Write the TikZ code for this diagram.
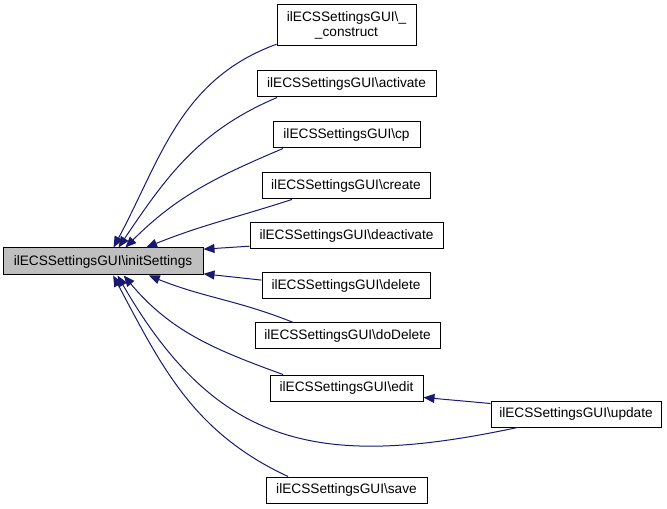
\documentclass[tikz,border=0pt]{standalone}
\usepackage{fontspec}
\setmainfont{Liberation Sans}
\usetikzlibrary{arrows.meta}
\definecolor{midnightblue}{HTML}{191970}

\begin{document}
\begin{tikzpicture}[x=0.75pt,y=0.75pt]
                \useasboundingbox (0,0) rectangle (667,-509);
                \begin{scope}[every node/.style={draw, line width=0.75pt, minimum height=19.5pt, inner sep=1pt, align=center, font=\fontsize{10.25}{11.5}\selectfont}]
                        \node [fill={rgb,255:red,191;green,191;blue,191}, minimum width=150pt, minimum height=20.25pt] (init) at (103,-261.5) {ilECSSettingsGUI\textbackslash initSettings};
                        \node [minimum width=104.25pt, minimum height=30.75pt] (construct) at (346.5,-25.5) {ilECSSettingsGUI\textbackslash\_\\\_construct};
                        \node [minimum width=134.25pt] (activate) at (346.5,-84) {ilECSSettingsGUI\textbackslash activate};
                        \node [minimum width=110.25pt] (cp) at (346.5,-135) {ilECSSettingsGUI\textbackslash cp};
                        \node [minimum width=126pt] (create) at (346,-186) {ilECSSettingsGUI\textbackslash create};
                        \node [minimum width=144.75pt] (deactivate) at (346.5,-236) {ilECSSettingsGUI\textbackslash deactivate};
                        \node [minimum width=126pt] (delete) at (346,-286) {ilECSSettingsGUI\textbackslash delete};
                        \node [minimum width=138.75pt] (doDelete) at (347.5,-336) {ilECSSettingsGUI\textbackslash doDelete};
                        \node [minimum width=114.75pt] (edit) at (346.5,-388) {ilECSSettingsGUI\textbackslash edit};
                        \node [minimum width=127.5pt] (update) at (576,-414) {ilECSSettingsGUI\textbackslash update};
                        \node [minimum width=120.75pt] (save) at (346.5,-490) {ilECSSettingsGUI\textbackslash save};
                \end{scope}
                \begin{scope}[every edge/.style={draw=midnightblue, line width=0.75pt, ->, >={Triangle[length=8.25pt,width=6.75pt]}}]
                        \path (construct.195) edge [out=200, in=62] (init.53);
                        \path (activate.191) edge [out=203, in=56] (init.42);
                        \path (cp.192) edge [out=203, in=45] (init.32);
                        \path (create.194) edge [out=198, in=22] (init.18);
                        \path (deactivate.186) edge (init.7);
                        \path (delete.176) edge (init.-7);
                        \path (doDelete.166) edge [out=158, in=-22] (init.-17);
                        \path (edit.168) edge [out=160, in=-50] (init.-34);
                        \path (update.193) edge [out=192, in=-60, looseness=1.2] (init.-44);
                        \path (save.167) edge [out=155, in=-62] (init.-54);
                        \path (update.173) edge (edit.-7);
                \end{scope}
        \end{tikzpicture}
\end{document}
